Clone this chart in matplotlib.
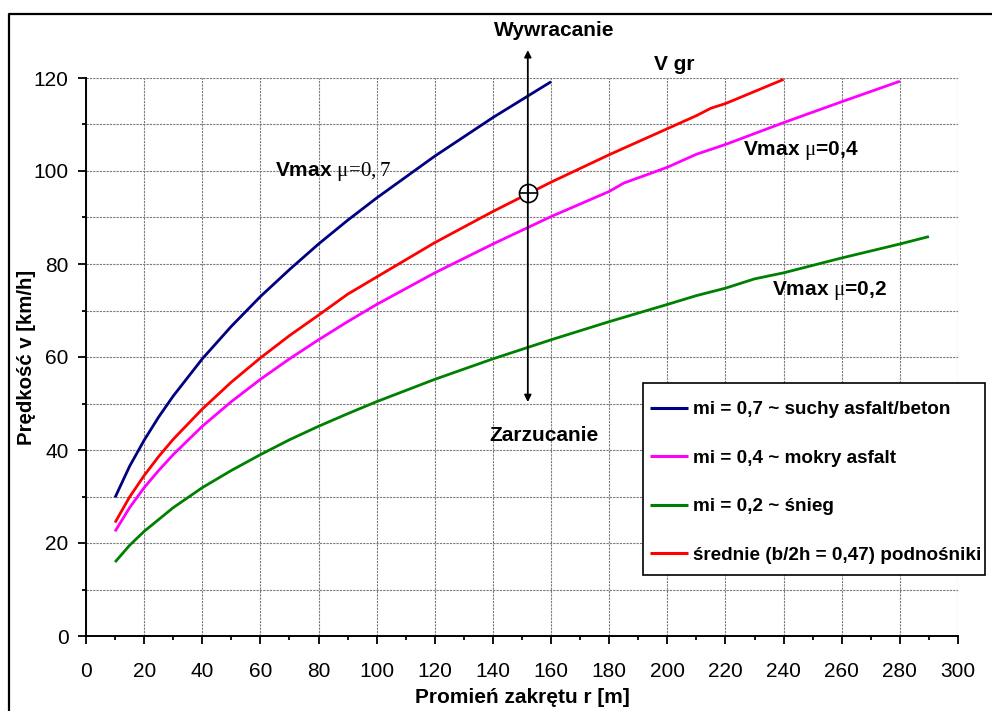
import matplotlib
matplotlib.use("Agg")
import matplotlib.pyplot as plt
from matplotlib.lines import Line2D
from matplotlib.patches import Rectangle
from matplotlib.ticker import MultipleLocator

plt.rcParams['font.family'] = ['Liberation Sans', 'DejaVu Sans']
# mu i wartości w etykietach Vmax - proste (nie kursywa) litery szeryfowe
plt.rcParams['mathtext.fontset'] = 'custom'
plt.rcParams['mathtext.rm'] = 'Liberation Serif'
plt.rcParams['mathtext.it'] = 'Liberation Serif'
plt.rcParams['mathtext.bf'] = 'Liberation Serif:bold'

# promień zakrętu r [m] i prędkość graniczna v [km/h]
r_07 = [10, 15, 20, 25, 30, 40, 50, 60, 70, 80, 90, 100, 120, 140, 160]
v_07 = [29.8, 36.5, 42.1, 47.1, 51.6, 59.6, 66.6, 73.0, 78.8, 84.3, 89.4, 94.2, 103.2, 111.5, 119.2]

r_04 = [10, 15, 20, 25, 30, 40, 50, 60, 70, 80, 90, 100, 120, 140, 160, 180, 185, 200, 210, 220, 240, 260, 280]
v_04 = [22.5, 27.6, 31.9, 35.6, 39.0, 45.1, 50.4, 55.2, 59.6, 63.7, 67.6, 71.3, 78.1, 84.3, 90.2,
        95.6, 97.4, 100.8, 103.6, 105.7, 110.4, 114.9, 119.3]

r_02 = [10, 15, 20, 30, 40, 50, 60, 70, 80, 90, 100, 120, 140, 160, 180, 200, 210, 220, 230, 240, 260, 280, 290]
v_02 = [15.9, 19.5, 22.5, 27.6, 31.9, 35.6, 39.0, 42.2, 45.1, 47.8, 50.4, 55.2, 59.6, 63.7, 67.6,
        71.3, 73.2, 74.8, 76.8, 78.1, 81.3, 84.3, 85.9]

r_sr = [10, 15, 20, 25, 30, 40, 50, 60, 70, 80, 90, 100, 120, 140, 160, 180, 200, 210, 215, 220, 240]
v_sr = [24.4, 29.9, 34.5, 38.6, 42.3, 48.8, 54.6, 59.8, 64.6, 69.0, 73.5, 77.2, 84.6, 91.3, 97.6,
        103.5, 109.1, 111.9, 113.5, 114.5, 119.7]

labels = ['mi = 0,7 ~ suchy asfalt/beton',
          'mi = 0,4 ~ mokry asfalt',
          'mi = 0,2 ~ śnieg',
          'średnie (b/2h = 0,47) podnośniki']
colors = ['#000080', '#FF00FF', '#008000', '#FF0000']

# punkt przecięcia: granica wywracanie / zarzucanie
r_gr, v_gr = 152, 95.3

W, H = 992, 711
fig = plt.figure(figsize=(W / 100, H / 100), dpi=100)
ax = fig.add_axes([86 / W, 1 - 636 / H, 872 / W, 558 / H])

for r, v, c, lab in zip([r_07, r_04, r_02, r_sr], [v_07, v_04, v_02, v_sr], colors, labels):
    ax.plot(r, v, color=c, lw=2.0, label=lab, solid_capstyle='butt')

ax.set_xlim(0, 300)
ax.set_ylim(0, 120)
ax.xaxis.set_major_locator(MultipleLocator(20))
ax.xaxis.set_minor_locator(MultipleLocator(10))
ax.yaxis.set_major_locator(MultipleLocator(20))
ax.yaxis.set_minor_locator(MultipleLocator(10))

gridstyle = dict(color='#7a7a7a', lw=0.8, linestyle=(0, (2, 1)))
ax.grid(True, which='major', axis='both', **gridstyle)
ax.grid(True, which='minor', axis='y', **gridstyle)
ax.set_axisbelow(True)

for side in ['top', 'right']:
    ax.spines[side].set_visible(False)
for side in ['left', 'bottom']:
    ax.spines[side].set_linewidth(1.4)

ax.tick_params(which='major', direction='out', length=5.5, width=1.3, labelsize=15)
ax.tick_params(which='minor', direction='out', length=3, width=1.3)
ax.tick_params(axis='x', which='major', pad=13)
ax.tick_params(axis='y', which='major', pad=7)

ax.set_xlabel('Promień zakrętu r [m]', fontsize=15, fontweight='bold')
ax.set_ylabel('Prędkość v [km/h]', fontsize=14.7, fontweight='bold')
ax.xaxis.set_label_coords(0.5, (636 - 688) / 558)
ax.yaxis.set_label_coords((36 - 86) / 872, 0.5)

# strzałka wywracanie / zarzucanie
ax.annotate('', xy=(r_gr, 126), xytext=(r_gr, 50.3),
            arrowprops=dict(arrowstyle='<|-|>', color='black', lw=1.3,
                            mutation_scale=10, shrinkA=0, shrinkB=0),
            annotation_clip=False)
ax.plot([r_gr], [v_gr], marker='o', ms=13, mfc='white', mec='black', mew=1.2, clip_on=False)
ax.plot([r_gr], [v_gr], marker='+', ms=13, mec='black', mew=1.2, clip_on=False)

ax.text(161, 130.2, 'Wywracanie', fontsize=15, fontweight='bold', ha='center', va='center')
ax.text(157.5, 43.2, 'Zarzucanie', fontsize=15, fontweight='bold', ha='center', va='center')
ax.text(202.5, 122.8, 'V gr', fontsize=15, fontweight='bold', ha='center', va='center')

ax.text(65, 99.8, r'Vmax $\mu\!=\!0,7$', fontsize=15, fontweight='bold', ha='left', va='center')
ax.text(226, 104.5, r'Vmax $\mu$=0,4', fontsize=15, fontweight='bold', ha='left', va='center')
ax.text(236, 74.2, r'Vmax $\mu$=0,2', fontsize=15, fontweight='bold', ha='left', va='center')

# legenda bez własnej ramki, ramka rysowana osobno
ax.add_patch(Rectangle((643 / W, 1 - 575 / H), 342 / W, 192 / H, transform=fig.transFigure,
                       facecolor='white', edgecolor='black', lw=1.2, zorder=4, clip_on=False))
leg = ax.legend(loc='upper left', bbox_to_anchor=(650 / W, 1 - 401 / H),
                bbox_transform=fig.transFigure, borderaxespad=0, borderpad=0,
                prop={'weight': 'bold', 'size': 13.6}, frameon=False,
                handlelength=2.0, handletextpad=0.27, labelspacing=1.66)
leg.set_zorder(5)
for h in leg.legend_handles:
    h.set_linewidth(2.2)

# ramka wykresu
fig.add_artist(Line2D([8.5 / W, 8.5 / W, 1.0], [0.0, 1 - 13.5 / H, 1 - 13.5 / H],
                      color='black', lw=1.6, transform=fig.transFigure))

fig.savefig('out.png', dpi=100)
